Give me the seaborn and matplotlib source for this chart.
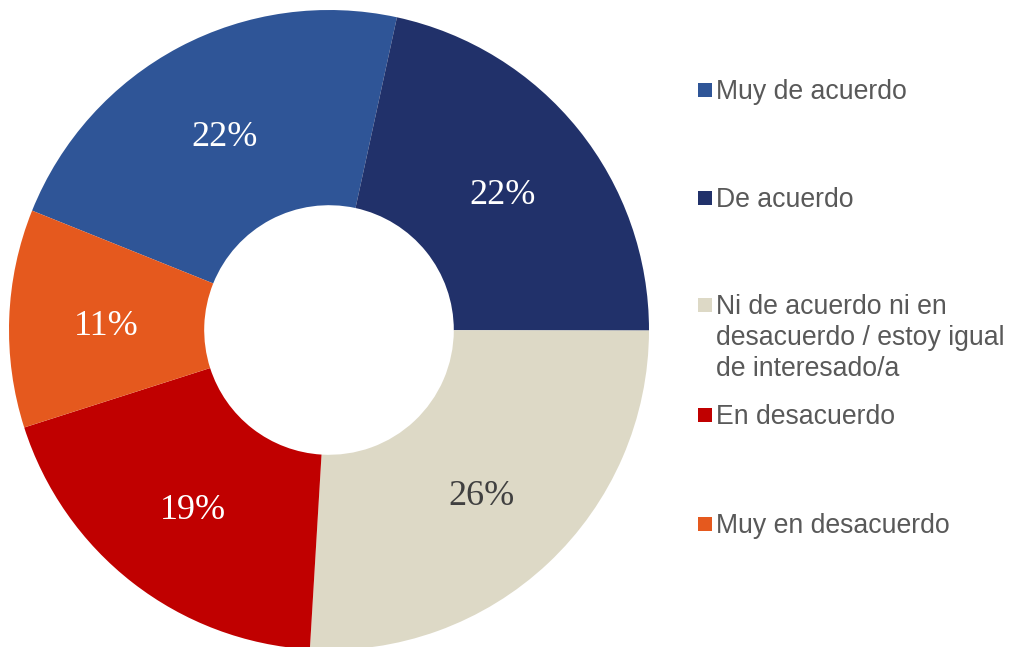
import matplotlib
matplotlib.use("Agg")
import matplotlib.pyplot as plt
import seaborn as sns
import numpy as np
from matplotlib.patches import Rectangle

sns.set_theme(style="white")

categories = ["Muy de acuerdo", "De acuerdo",
              "Ni de acuerdo ni en\ndesacuerdo / estoy igual\nde interesado/a",
              "En desacuerdo", "Muy en desacuerdo"]
values = [22.3, 21.6, 25.9, 19.1, 11.0]
labels = ["22%", "22%", "26%", "19%", "11%"]
colors = ["#2F5597", "#21316A", "#DDD9C6", "#C00000", "#E5591E"]
label_colors = ["white", "white", "#404040", "white", "white"]

W, H = 1018, 647
fig = plt.figure(figsize=(W / 100, H / 100), dpi=100)
cx, cy, r = 329, 330, 320
ax = fig.add_axes([(cx - r) / W, (H - cy - r) / H, 2 * r / W, 2 * r / H])

start = 158.1
wedges, _ = ax.pie(values, colors=colors, startangle=start, counterclock=False,
                   radius=1.0, wedgeprops=dict(width=0.61, linewidth=0))
total = sum(values)
ang = start
for v, lab, lc in zip(values, labels, label_colors):
    mid = ang - v / total * 360 / 2
    ang -= v / total * 360
    rr = 0.695
    ax.text(rr * np.cos(np.radians(mid)), rr * np.sin(np.radians(mid)) - 0.014,
            lab, ha="center", va="center", fontsize=26, color=lc,
            family="Liberation Serif")
ax.set_xlim(-1, 1)
ax.set_ylim(-1, 1)
ax.set_aspect("equal")
ax.axis("off")

# legend
ys = [90, 198, 305, 415, 524]
for cat, col, y in zip(categories, colors, ys):
    fig.add_artist(Rectangle((698 / W, (H - y - 7) / H), 14 / W, 14 / H,
                             transform=fig.transFigure, facecolor=col,
                             edgecolor="none"))
    fig.text(716 / W, (H - y + 11) / H, cat, ha="left", va="top",
             fontsize=19.2, color="#595959", family="Liberation Sans",
             linespacing=1.24)

fig.savefig("out.png", dpi=100)
